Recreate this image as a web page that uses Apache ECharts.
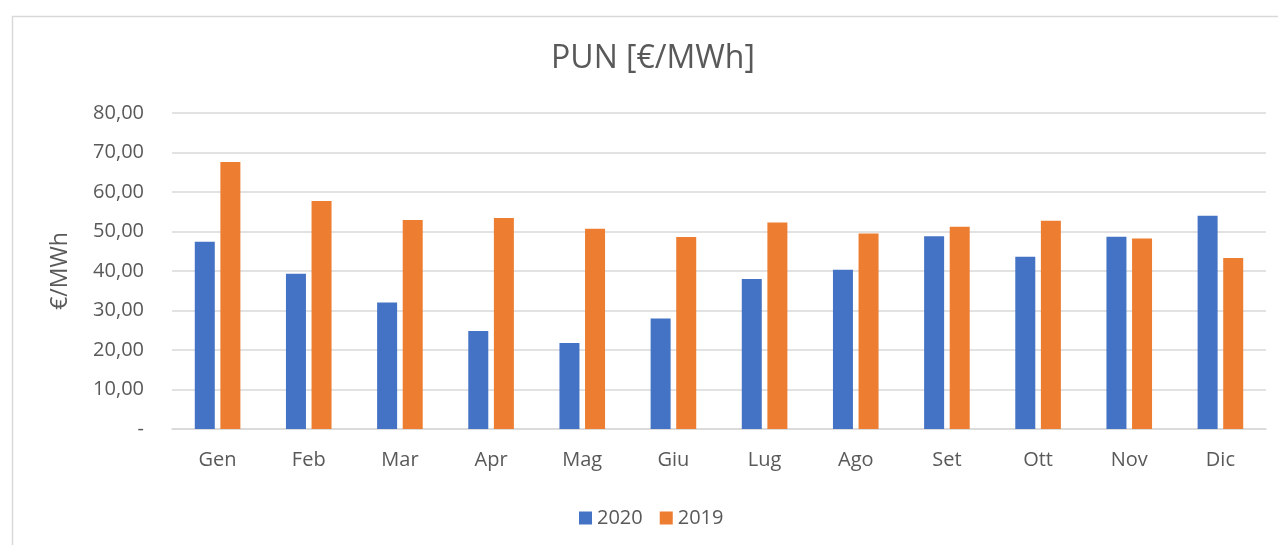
<!DOCTYPE html>
<html>
<head>
<meta charset="utf-8">
<script src="https://cdn.jsdelivr.net/npm/echarts@6/dist/echarts.min.js"></script>
<style>html,body{margin:0;padding:0;background:#fff}#c{width:1278px;height:545px}</style>
</head>
<body>
<div id="c"></div>
<script>
const categories = ['Gen','Feb','Mar','Apr','Mag','Giu','Lug','Ago','Set','Ott','Nov','Dic'];
const values2020 = [47.4, 39.3, 32.0, 24.8, 21.8, 28.0, 38.0, 40.3, 48.8, 43.6, 48.7, 54.0];
const values2019 = [67.6, 57.7, 52.9, 53.4, 50.7, 48.6, 52.3, 49.5, 51.2, 52.7, 48.2, 43.3];
const yTicks = [0, 10, 20, 30, 40, 50, 60, 70, 80];

const font = '"Open Sans", "Noto Sans", sans-serif';
const chart = echarts.init(document.getElementById('c'), null, {renderer: 'canvas'});
chart.setOption({
  animation: false,
  backgroundColor: '#fff',
  graphic: [{
    type: 'rect', left: 10, top: 14, silent: true,
    shape: {width: 1300, height: 600},
    style: {fill: 'none', stroke: '#d9d9d9', lineWidth: 1.5}
  }],
  title: {
    text: 'PUN [€/MWh]', left: 648, top: 38, textAlign: 'center',
    textStyle: {fontFamily: font, fontSize: 32, fontWeight: 'normal', color: '#595959'}
  },
  legend: {
    data: ['2020', '2019'], left: 574, top: 503, itemWidth: 13, itemHeight: 13, itemGap: 17,
    icon: 'rect',
    textStyle: {fontFamily: font, fontSize: 20, color: '#595959'}
  },
  grid: {left: 172, right: 12, top: 113, bottom: 116},
  xAxis: {
    type: 'category', data: categories,
    axisLine: {lineStyle: {color: '#d9d9d9', width: 1.5}},
    axisTick: {show: false},
    axisLabel: {fontFamily: font, fontSize: 20, color: '#595959', margin: 21}
  },
  yAxis: {
    type: 'value', min: yTicks[0], max: yTicks[yTicks.length - 1], interval: 10,
    name: '€/MWh', nameLocation: 'middle', nameGap: 100, nameRotate: 90,
    nameTextStyle: {fontFamily: font, fontSize: 23, color: '#595959'},
    axisLine: {show: false}, axisTick: {show: false},
    splitLine: {lineStyle: {color: '#d9d9d9', width: 1.5}},
    axisLabel: {
      fontFamily: font, fontSize: 20, color: '#595959', margin: 28,
      formatter: v => v === 0 ? '-' : v.toFixed(2).replace('.', ',')
    }
  },
  series: [
    {name: '2020', type: 'bar', data: values2020, barWidth: 20, barGap: '28%',
     itemStyle: {color: '#4472c4'}},
    {name: '2019', type: 'bar', data: values2019, barWidth: 20,
     itemStyle: {color: '#ed7d31'}}
  ]
});
</script>
</body>
</html>
